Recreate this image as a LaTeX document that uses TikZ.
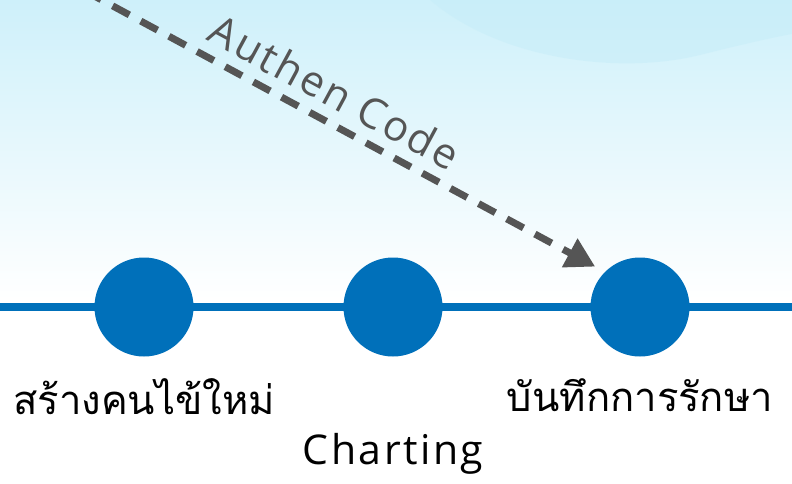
\documentclass[tikz,border=0pt]{standalone}
\usepackage{fontspec}
\setmainfont{Open Sans}
\newfontfamily\thaifont[Script=Thai]{Loma}
\usetikzlibrary{positioning,arrows.meta}

\definecolor{stepblue}{RGB}{0,112,186}
\definecolor{codegray}{RGB}{85,85,85}
\definecolor{skyblue}{RGB}{206,240,250}
\definecolor{skydeep}{RGB}{198,237,249}

\tikzset{
  stepdot/.style={circle, fill=stepblue, minimum size=99pt, inner sep=0pt},
  steplabel/.style={font=\thaifont\fontsize{40}{46}\selectfont, inner sep=0pt},
  authline/.style={codegray, line width=7pt, dash pattern=on 19pt off 13pt,
    -{Triangle[length=29pt,width=31pt]}}
}

\begin{document}
\begin{tikzpicture}[x=1pt,y=-1pt]
  \useasboundingbox (0,0) rectangle (792,484);
  % sky in the background
  \fill[white] (0,0) rectangle (792,484);
  \shade[top color=skyblue, bottom color=white] (0,0) rectangle (792,300);
  \fill[skydeep, opacity=0.5] (430,0) .. controls (500,60) and (620,75) .. (700,55)
    .. controls (740,45) and (770,38) .. (792,34) -- (792,0) -- cycle;

  % time line
  \coordinate (lineL) at (0,307);
  \coordinate (lineR) at (792,307);
  \draw[stepblue, line width=8pt] (lineL) -- (lineR);

  \node[stepdot] (create) at (144,307) {};
  \node[stepdot] (chart) at (393,307) {};
  \node[stepdot] (record) at (640,307) {};

  \node[steplabel, below=22pt of create] (createText) {สร้างคนไข้ใหม่};
  \node[steplabel, below=22pt of record] (recordText) {บันทึกการรักษา};
  \node[font=\fontsize{41}{46}\selectfont\addfontfeatures{LetterSpace=6}, inner sep=0pt,
    below=76pt of chart] (chartText) {Charting};

  % authen code
  \coordinate (authStart) at (0,-55);
  \draw[authline, shorten >=11pt] (authStart) -- (record.135)
    node[pos=0.53, sloped, above=7pt, text=codegray,
      font=\fontsize{42}{46}\selectfont\addfontfeatures{LetterSpace=6}] (authText) {Authen Code};
\end{tikzpicture}
\end{document}
